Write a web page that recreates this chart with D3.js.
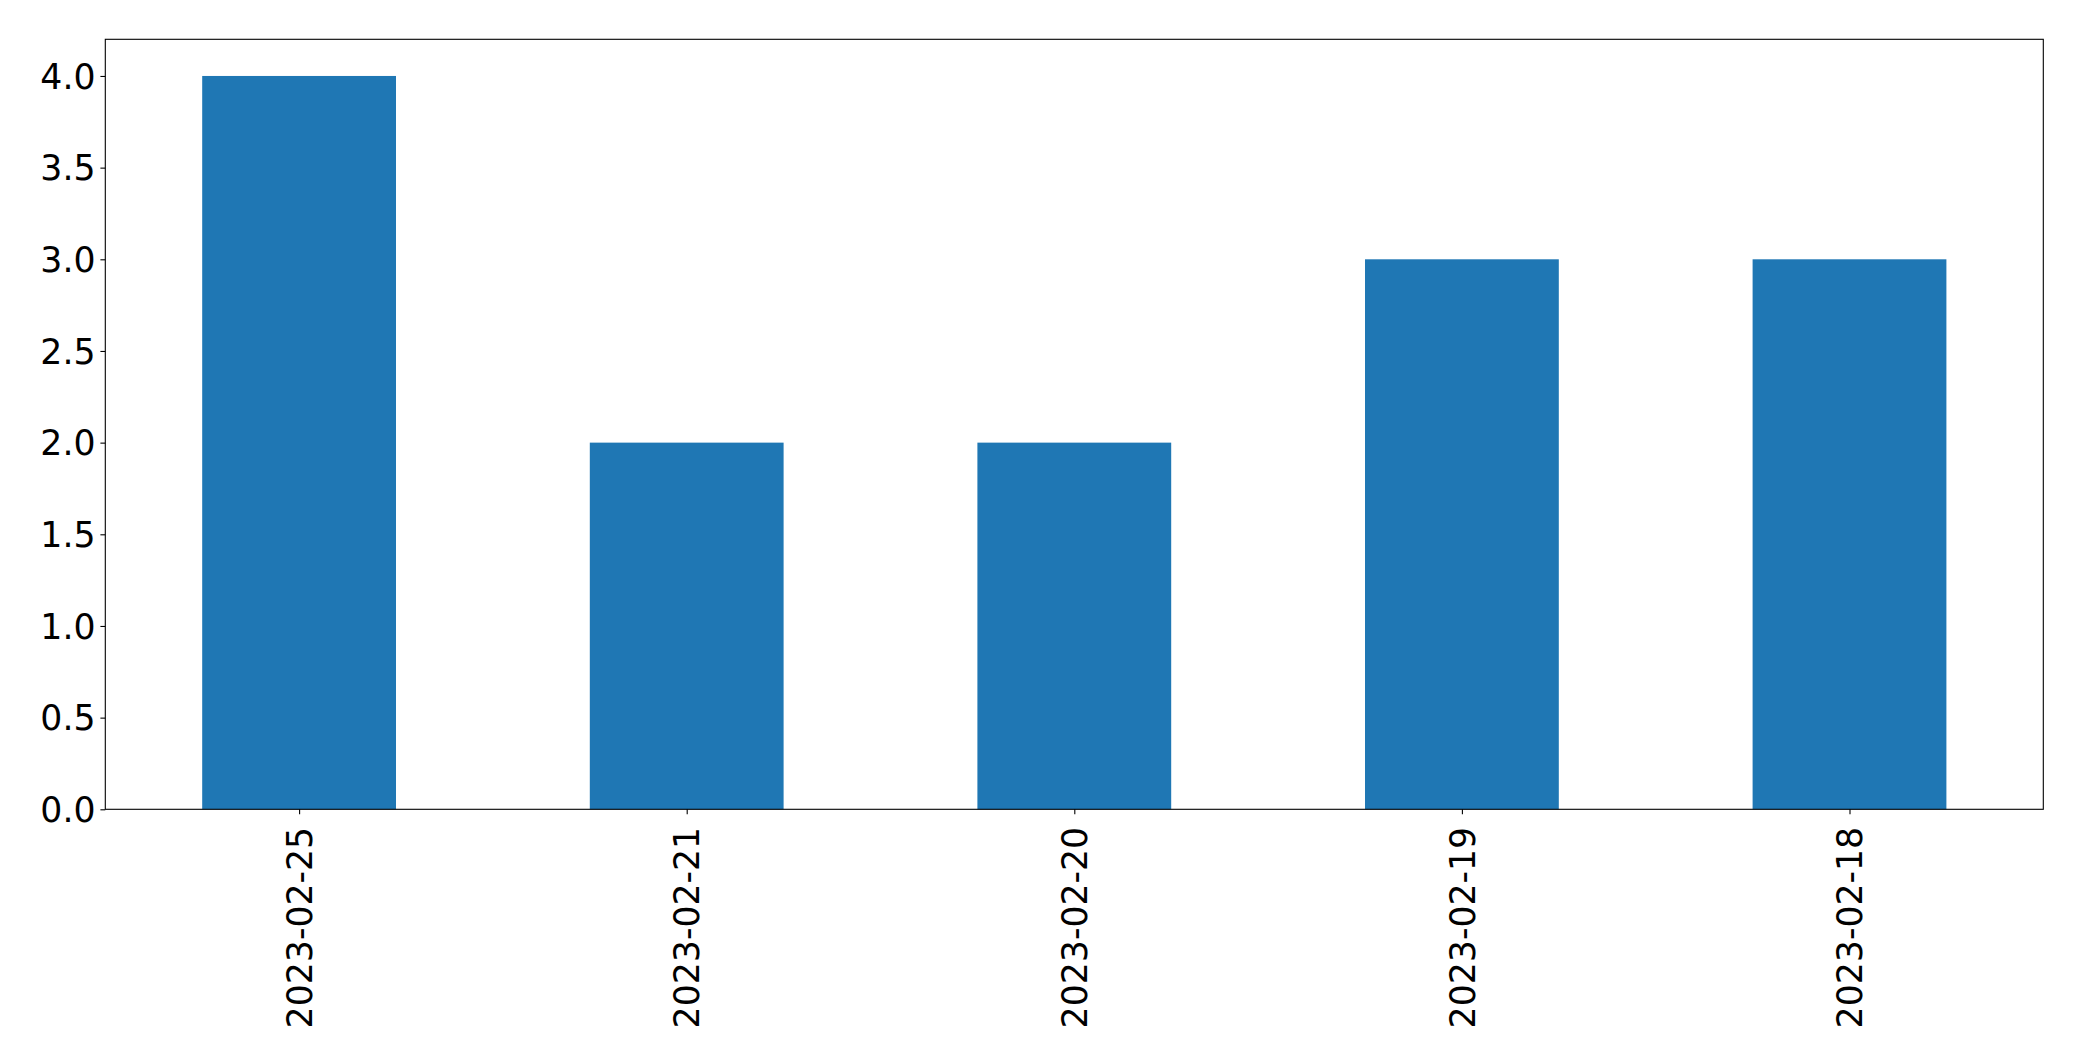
<!DOCTYPE html>
<html><head><meta charset="utf-8">
<script src="https://cdn.jsdelivr.net/npm/d3@7"></script>
<style>body{margin:0;background:#fff}svg{display:block}</style>
</head><body>
<script>
const categories = ["2023-02-25","2023-02-21","2023-02-20","2023-02-19","2023-02-18"];
const values = [4, 2, 2, 3, 3];
const yTicks = [0,0.5,1,1.5,2,2.5,3,3.5,4];

const W = 2082, H = 1061;
const m = {left:105.3, right:2043.3, top:39.3, bottom:809.3};
const svg = d3.select("body").append("svg").attr("width",W).attr("height",H);
const x = d3.scaleLinear().domain([-0.5, categories.length-0.5]).range([m.left, m.right]);
const y = d3.scaleLinear().domain([0, 4.2]).range([m.bottom, m.top]);
const font = "DejaVu Sans";
const fs = 34.7;

svg.append("g").selectAll("rect").data(values).join("rect")
  .attr("x",(d,i)=>x(i-0.25)).attr("width",(d,i)=>x(i+0.25)-x(i-0.25))
  .attr("y",d=>y(d)).attr("height",d=>y(0)-y(d)).attr("fill","#1f77b4");

const ya = svg.append("g").attr("transform",`translate(${m.left},0)`)
  .call(d3.axisLeft(y).tickValues(yTicks).tickFormat(d3.format(".1f")).tickSize(4.9).tickPadding(4.9));
ya.select(".domain").remove();
ya.selectAll("line").attr("stroke","#000").attr("stroke-width",1.1);
ya.selectAll("text").attr("font-family",font).attr("font-size",fs).attr("fill","#000").attr("dy","0.35em");

const xa = svg.append("g").attr("transform",`translate(0,${m.bottom})`)
  .call(d3.axisBottom(x).tickValues(d3.range(categories.length)).tickFormat(i=>categories[i]).tickSize(4.9).tickPadding(0));
xa.select(".domain").remove();
xa.selectAll("line").attr("stroke","#000").attr("stroke-width",1.1);
xa.selectAll("text").attr("font-family",font).attr("font-size",fs).attr("fill","#000")
  .attr("text-anchor","end").attr("dy","0.35em").attr("y",0)
  .attr("transform","translate(0,17.5) rotate(-90)");

svg.append("rect").attr("x",m.left).attr("y",m.top).attr("width",m.right-m.left).attr("height",m.bottom-m.top)
  .attr("fill","none").attr("stroke","#000").attr("stroke-width",1.1);
</script>
</body></html>
